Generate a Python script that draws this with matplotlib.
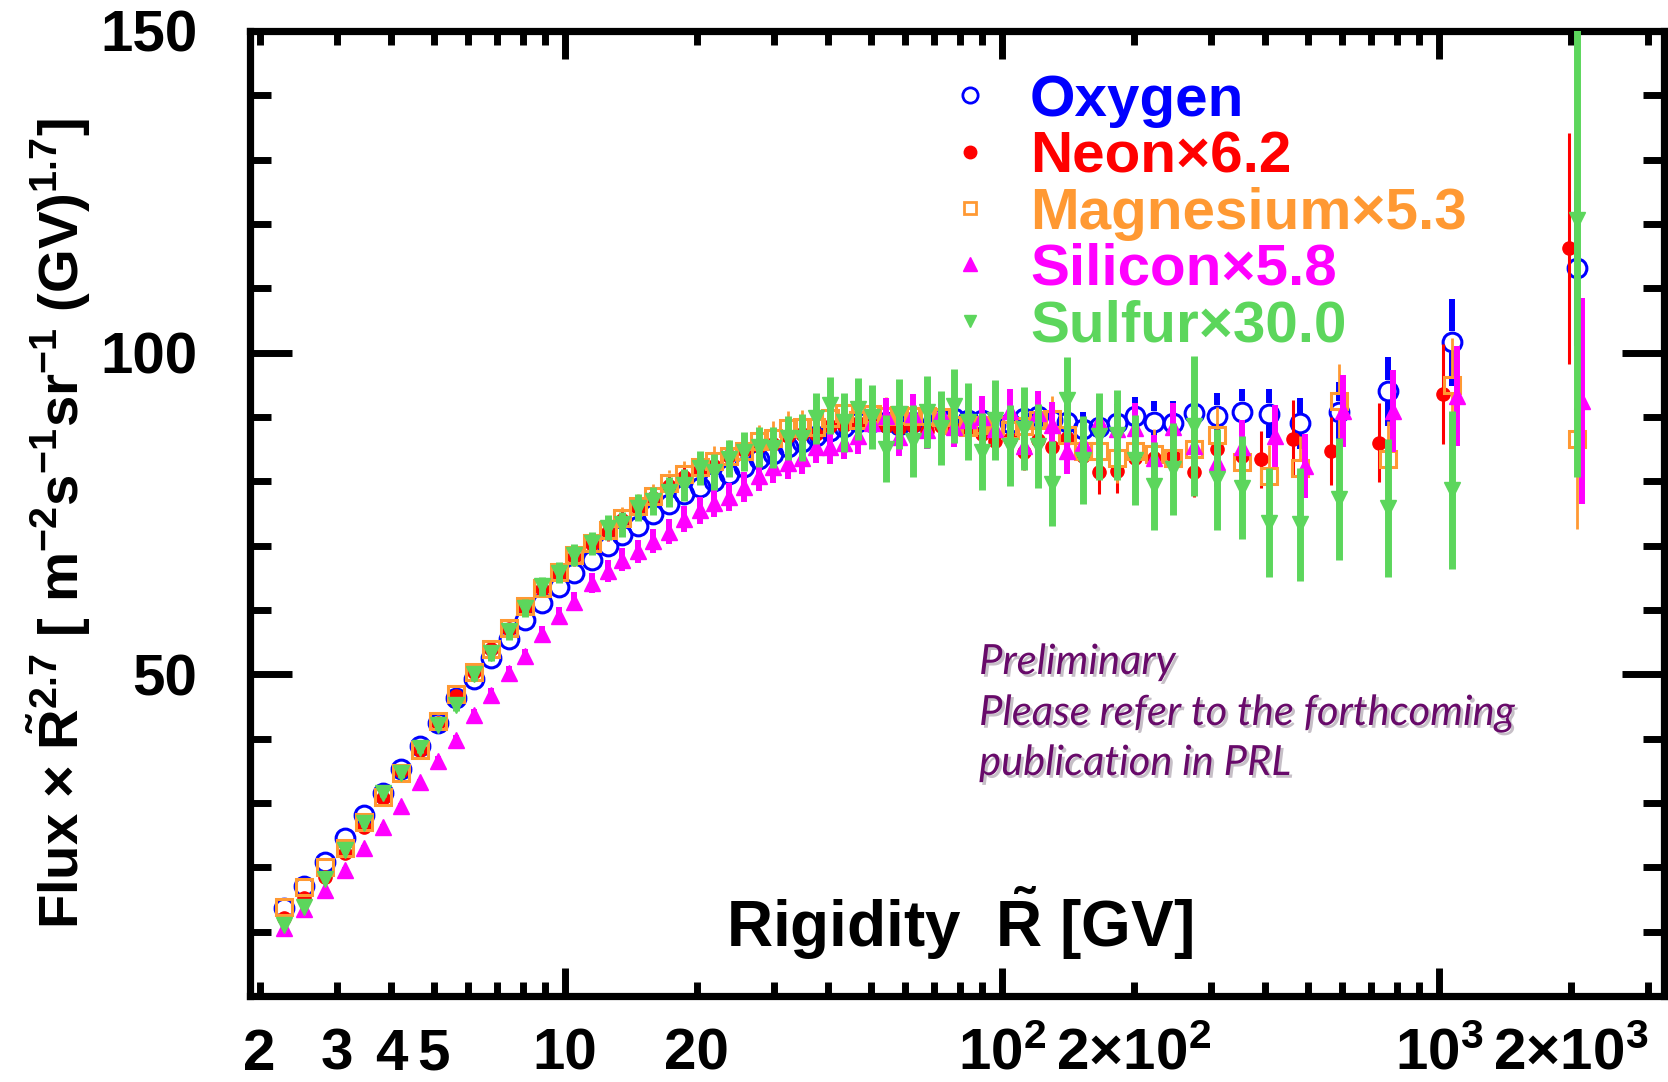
import numpy as np
import matplotlib
matplotlib.use("Agg")
import matplotlib.pyplot as plt
from matplotlib.lines import Line2D
from matplotlib.ticker import FixedLocator, FixedFormatter, MultipleLocator, NullFormatter
import matplotlib.patheffects as pe

plt.rcParams['font.family'] = ['Liberation Sans', 'DejaVu Sans']
plt.rcParams['font.weight'] = 'bold'
plt.rcParams['mathtext.fontset'] = 'custom'
plt.rcParams['mathtext.rm'] = 'Liberation Sans:bold'
plt.rcParams['mathtext.bf'] = 'Liberation Sans:bold'
plt.rcParams['mathtext.it'] = 'Liberation Sans:italic:bold'
plt.rcParams['mathtext.sf'] = 'Liberation Sans:bold'
plt.rcParams['mathtext.default'] = 'rm'

# rigidity bin centres [GV]
rig = [2.27, 2.53, 2.82, 3.13, 3.46, 3.83, 4.22, 4.65, 5.12, 5.63,
       6.18, 6.77, 7.42, 8.11, 8.86, 9.67, 10.5, 11.5, 12.5, 13.5,
       14.7, 15.9, 17.3, 18.7, 20.3, 21.9, 23.7, 25.7, 27.7, 29.9,
       32.3, 34.8, 37.5, 40.4, 43.5, 46.8, 50.3, 54.1, 58.2, 62.5,
       67.2, 72.3, 77.6, 83.4, 89.7, 96.4, 104, 112, 121, 130,
       141, 153, 167, 183, 201, 222, 246, 275, 310, 354,
       409, 481, 589, 762, 1070, 2070]
# last six points of neon and silicon are drawn slightly shifted
rig_ne_tail = [392, 463, 566, 729, 1021, 1982]
rig_si_tail = [420, 494, 603, 785, 1099, 2128]

oxygen = [13.7, 17.1, 20.8, 24.6, 28.2, 31.6, 35.3, 38.8, 42.5, 46.3,
          49.3, 52.6, 55.5, 58.4, 61.1, 63.5, 65.8, 67.8, 70.0, 71.7,
          73.1, 75.0, 76.4, 78.0, 79.1, 80.0, 81.1, 82.3, 83.4, 84.3,
          85.4, 86.1, 87.0, 87.8, 88.4, 89.2, 89.3, 89.3, 88.8, 89.2,
          89.8, 89.8, 89.9, 89.6, 89.5, 88.8, 89.0, 89.9, 90.1, 89.5,
          89.3, 88.1, 88.5, 89.1, 90.1, 89.3, 89.0, 90.6, 90.1, 90.8,
          90.5, 89.0, 90.8, 94.0, 101.6, 113.1]
oxygen_err = [0.2, 0.2, 0.2, 0.2, 0.2, 0.2, 0.2, 0.2, 0.2, 0.3,
              0.3, 0.3, 0.3, 0.3, 0.3, 0.3, 0.4, 0.4, 0.4, 0.4,
              0.4, 0.5, 0.5, 0.5, 0.5, 0.6, 0.6, 0.6, 0.7, 0.7,
              0.7, 0.8, 0.8, 0.9, 0.9, 1.0, 1.0, 1.1, 1.2, 1.2,
              1.3, 1.4, 1.5, 1.6, 1.7, 1.8, 2.0, 2.2, 2.3, 2.4,
              2.5, 2.6, 2.8, 2.9, 3.0, 3.2, 3.5, 3.6, 3.6, 3.6,
              3.8, 4.0, 4.6, 5.4, 6.8, 12.0]

neon = [12.2, 15.3, 18.5, 22.2, 26.2, 30.8, 34.9, 38.3, 42.4, 46.6,
        50.3, 54.0, 57.0, 60.3, 63.2, 65.6, 68.2, 70.2, 72.2, 74.0,
        75.8, 77.4, 79.2, 80.6, 81.8, 82.4, 84.0, 84.8, 85.5, 85.8,
        87.0, 87.3, 87.4, 88.6, 88.8, 89.1, 88.8, 88.6, 88.3, 88.6,
        87.8, 88.6, 88.1, 88.1, 87.3, 86.2, 86.6, 84.6, 86.5, 85.3,
        86.8, 83.9, 81.4, 81.6, 83.6, 83.6, 83.9, 81.4, 85.0, 84.0,
        83.4, 86.6, 84.7, 86.0, 93.6, 116.2]
neon_err = [0.3, 0.3, 0.3, 0.3, 0.4, 0.4, 0.4, 0.5, 0.5, 0.6,
            0.7, 0.8, 0.9, 1.0, 1.1, 1.2, 1.3, 1.4, 1.4, 1.5,
            1.5, 1.5, 1.6, 1.6, 1.6, 1.6, 1.7, 1.7, 1.7, 1.8,
            1.8, 1.8, 1.9, 1.9, 2.0, 2.0, 2.1, 2.1, 2.2, 2.2,
            2.3, 2.3, 2.4, 2.5, 2.5, 2.6, 2.7, 2.8, 2.9, 3.0,
            3.1, 3.2, 3.3, 3.4, 3.5, 3.6, 3.7, 3.8, 4.0, 4.2,
            4.5, 6.0, 5.3, 6.1, 7.8, 18.0]

magnesium = [13.8, 17.0, 20.1, 23.0, 27.0, 31.0, 34.7, 38.2, 42.8, 47.0,
             50.4, 54.0, 57.2, 60.6, 63.4, 65.9, 68.5, 70.4, 72.5, 74.3,
             76.2, 77.7, 79.8, 81.1, 82.2, 83.2, 84.0, 84.7, 86.2, 86.8,
             88.3, 88.4, 88.5, 89.9, 90.6, 89.6, 90.4, 90.1, 90.3, 90.2,
             90.1, 90.0, 88.7, 88.5, 88.7, 88.8, 88.0, 88.6, 89.6, 89.7,
             87.2, 84.7, 84.7, 83.6, 84.7, 84.2, 83.6, 85.0, 87.2, 83.0,
             80.8, 82.0, 92.5, 83.4, 95.0, 86.6]
magnesium_err = [0.3, 0.3, 0.3, 0.4, 0.4, 0.4, 0.5, 0.5, 0.6, 0.7,
                 0.8, 0.9, 1.0, 1.1, 1.2, 1.3, 1.4, 1.5, 1.6, 1.7,
                 1.8, 1.9, 2.0, 2.1, 2.2, 2.3, 2.4, 2.5, 2.5, 2.6,
                 2.6, 2.7, 2.7, 2.8, 2.8, 2.9, 2.9, 3.0, 3.0, 3.1,
                 3.1, 3.2, 3.2, 3.3, 3.3, 3.4, 3.4, 3.5, 3.5, 3.6,
                 3.6, 3.7, 3.7, 3.8, 3.9, 4.0, 4.1, 4.2, 4.3, 4.5,
                 4.8, 5.0, 5.7, 6.0, 7.3, 14.0]

silicon = [10.5, 13.6, 16.4, 19.6, 23.0, 26.3, 29.5, 33.2, 36.6, 39.8,
           43.7, 46.8, 50.2, 52.8, 56.2, 59.0, 61.3, 64.2, 66.0, 67.8,
           69.1, 70.7, 72.2, 74.1, 75.5, 76.7, 77.6, 79.1, 80.8, 82.2,
           82.8, 83.6, 85.4, 85.3, 86.0, 87.0, 89.0, 90.2, 86.9, 90.5,
           88.0, 90.6, 88.5, 89.5, 90.0, 88.2, 90.9, 85.5, 90.6, 88.7,
           84.7, 86.0, 89.4, 88.1, 88.3, 83.6, 88.4, 85.5, 83.0, 85.3,
           87.0, 82.4, 90.9, 90.9, 93.3, 92.5]
silicon_err = [0.3, 0.3, 0.3, 0.4, 0.4, 0.5, 0.5, 0.6, 0.7, 0.8,
               0.9, 1.0, 1.1, 1.2, 1.3, 1.4, 1.5, 1.6, 1.7, 1.8,
               1.8, 1.9, 2.0, 2.0, 2.1, 2.2, 2.2, 2.3, 2.3, 2.4,
               2.4, 2.5, 2.5, 2.6, 2.6, 2.7, 2.8, 2.8, 2.9, 3.0,
               3.0, 3.1, 3.1, 3.2, 3.2, 3.3, 3.4, 3.5, 3.5, 3.6,
               3.6, 3.7, 3.7, 3.8, 3.8, 3.6, 3.7, 3.8, 3.9, 4.2,
               4.8, 5.0, 5.6, 6.4, 7.8, 16.0]

sulfur = [11.0, 13.8, 18.2, 22.7, 26.9, 31.5, 34.6, 38.5, 42.2, 45.3,
          50.0, 53.3, 56.7, 60.3, 63.7, 65.8, 68.6, 70.4, 72.8, 73.3,
          75.9, 76.9, 78.3, 79.4, 82.1, 81.5, 83.5, 84.6, 85.3, 85.2,
          86.7, 86.8, 89.8, 91.8, 89.2, 91.3, 90.0, 85.1, 90.5, 86.3,
          90.8, 88.3, 91.7, 89.3, 84.6, 89.5, 85.5, 88.2, 85.5, 79.6,
          92.7, 83.3, 87.0, 87.2, 83.3, 79.3, 81.9, 88.6, 80.3, 79.0,
          73.6, 73.3, 77.3, 75.9, 78.7, 120.6]
sulfur_err = [0.4, 0.4, 0.5, 0.5, 0.6, 0.6, 0.7, 0.8, 0.9, 1.0,
              1.1, 1.2, 1.3, 1.4, 1.5, 1.6, 1.7, 1.8, 1.9, 2.0,
              2.1, 2.2, 2.3, 2.5, 2.6, 2.8, 2.9, 3.0, 3.1, 3.2,
              3.4, 3.6, 4.0, 4.4, 4.6, 4.8, 5.0, 5.2, 5.4, 5.6,
              5.6, 5.8, 5.8, 6.0, 6.0, 6.2, 6.3, 6.4, 6.5, 6.6,
              6.6, 6.8, 6.8, 7.0, 7.0, 6.8, 7.2, 10.9, 7.8, 8.0,
              8.4, 8.8, 9.5, 10.7, 12.3, 40.0]

labels = ['Oxygen', 'Neon×6.2', 'Magnesium×5.3', 'Silicon×5.8', 'Sulfur×30.0']
colors = ['#0000FF', '#FF0000', '#FF9933', '#FF00FF', '#5CD65C']

fig = plt.figure(figsize=(16.68, 10.82), dpi=100)
ax = fig.add_axes([250 / 1668, 1 - 996 / 1082, 1414 / 1668, 965 / 1082])
ax.set_xscale('log')
ax.set_xlim(1.9, 3270)
ax.set_ylim(0, 150)

px_per_unit = 965 / 150


def draw_series(x, y, err, color, marker, ms, mew, filled, elw, z):
    x = np.asarray(x, float)
    y = np.asarray(y, float)
    err = np.asarray(err, float)
    # open markers: the error bar stops at the marker edge (ROOT style)
    gap = 0.0 if filled else (ms / 2 + mew / 2) * 100 / 72 / px_per_unit
    m = err > gap
    ax.vlines(x[m], y[m] + gap, y[m] + err[m], color=color, lw=elw, zorder=z)
    ax.vlines(x[m], y[m] - err[m], y[m] - gap, color=color, lw=elw, zorder=z)
    ax.plot(x, y, ls='none', marker=marker, ms=ms, mec=color, mew=mew,
            mfc=color if filled else 'none', zorder=z + 0.5)


draw_series(rig, oxygen, oxygen_err, colors[0], 'o', 13.5, 2.2, False, 4.3, 2)
draw_series(rig[:60] + rig_ne_tail, neon, neon_err, colors[1], 'o', 9.5, 1, True, 2.2, 3)
draw_series(rig, magnesium, magnesium_err, colors[2], 's', 11, 2.2, False, 2.0, 4)
draw_series(rig[:60] + rig_si_tail, silicon, silicon_err, colors[3], '^', 11.5, 1, True, 4.3, 5)
draw_series(rig, sulfur, sulfur_err, colors[4], 'v', 11.5, 1, True, 5.0, 6)

# axes frame and ticks
for sp in ax.spines.values():
    sp.set_linewidth(5.2)
ax.xaxis.set_major_locator(FixedLocator([10, 100, 1000]))
ax.xaxis.set_major_formatter(FixedFormatter(['10', r'$10^{2}$', r'$10^{3}$']))
minor_x = [k * 10 ** d for d in range(0, 4) for k in range(2, 10)]
minor_x = [v for v in minor_x if 1.9 < v < 3270]
minor_lab = {2: '2', 3: '3', 4: '4', 5: '5', 20: '20',
             200: r'$2{\times}10^{2}$', 2000: r'$2{\times}10^{3}$'}
ax.xaxis.set_minor_locator(FixedLocator(minor_x))
ax.xaxis.set_minor_formatter(FixedFormatter([minor_lab.get(v, '') for v in minor_x]))

ax.yaxis.set_major_locator(FixedLocator([50, 100, 150]))
ax.yaxis.set_minor_locator(MultipleLocator(10))
ax.yaxis.set_minor_formatter(NullFormatter())

ax.tick_params(which='both', direction='in', top=True, right=True, width=5, color='black')
ax.tick_params(axis='x', which='major', length=20, pad=53, labelsize=42)
ax.tick_params(axis='x', which='minor', length=10, pad=53, labelsize=42)
ax.tick_params(axis='y', which='major', length=30, pad=38, labelsize=42)
ax.tick_params(axis='y', which='minor', length=15)
for t in ax.get_xticklabels(which='both'):
    t.set_verticalalignment('baseline')

# axis titles
ax.text(0.5014, 0.051, r'Rigidity  $\tilde{\mathrm{R}}$ [GV]', transform=ax.transAxes,
        ha='center', va='baseline', fontsize=46, fontweight='bold')
fig.text(59 / 1668, 1 - 524 / 1082,
         r'Flux $\times$ $\tilde{\mathrm{R}}^{2.7}$ [ m$^{-2}$s$^{-1}$sr$^{-1}$ (GV)$^{1.7}$]',
         rotation=90, ha='center', va='center', fontsize=40.5, fontweight='bold')

# legend
handles = [
    Line2D([], [], ls='none', marker='o', ms=11, mec=colors[0], mfc='none', mew=2),
    Line2D([], [], ls='none', marker='o', ms=9, mec=colors[1], mfc=colors[1]),
    Line2D([], [], ls='none', marker='s', ms=9, mec=colors[2], mfc='none', mew=2),
    Line2D([], [], ls='none', marker='^', ms=10, mec=colors[3], mfc=colors[3]),
    Line2D([], [], ls='none', marker='v', ms=9, mec=colors[4], mfc=colors[4]),
]
ax.legend(handles, labels, loc='upper left', bbox_to_anchor=(0.4968, 0.9556),
          frameon=False, fontsize=42, labelcolor=colors, handlelength=0.6,
          handletextpad=0.73, borderpad=0, borderaxespad=0, labelspacing=0.04)

# preliminary note
note = ['Preliminary', 'Please refer to the forthcoming', 'publication in PRL']
note_y = [662, 713, 763]
for s, yy in zip(note, note_y):
    ax.text(0.5156, (996 - yy) / 965, s, transform=ax.transAxes, ha='left', va='center',
            fontsize=30, family='Lato', style='italic', fontweight='normal', color='#680A6A',
            path_effects=[pe.withSimplePatchShadow(offset=(2, -2), alpha=0.25)])

fig.savefig('out.png', dpi=100)
